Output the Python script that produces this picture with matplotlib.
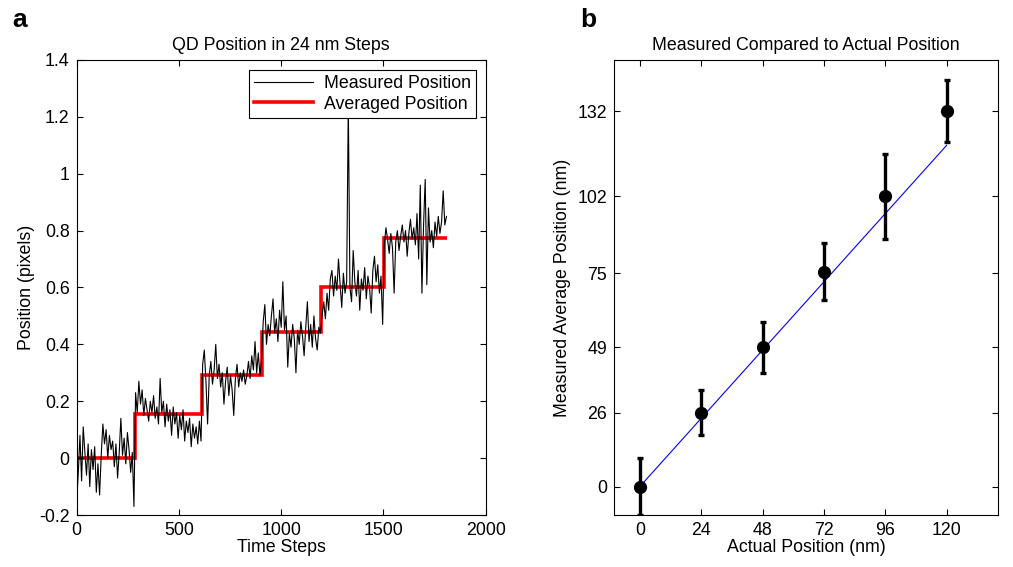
import numpy as np
import matplotlib
matplotlib.use("Agg")
import matplotlib.pyplot as plt

plt.rcParams['font.family'] = ['Liberation Sans', 'DejaVu Sans']

# ---- Panel a data ----
time_step = 8
measured = [
    # step 1 (0-280)
    -0.15, -0.05, 0.08, -0.08, 0.11, 0.02, -0.06, 0.05, -0.10, 0.03, -0.04, 0.04,
    -0.12, -0.02, -0.13, 0.01, 0.12, 0.05, 0.10, 0.00, 0.08, 0.03, 0.06, -0.03,
    0.05, -0.07, 0.02, 0.14, 0.01, 0.07, -0.02, 0.09, 0.03, -0.05, 0.02, -0.17,
    # step 2 (288-608)
    0.23, 0.16, 0.27, 0.19, 0.24, 0.15, 0.21, 0.17, 0.13, 0.20, 0.16, 0.22,
    0.14, 0.18, 0.12, 0.28, 0.16, 0.20, 0.11, 0.19, 0.13, 0.17, 0.08, 0.18,
    0.12, 0.16, 0.07, 0.15, 0.10, 0.17, 0.06, 0.13, 0.09, 0.14, 0.04, 0.12,
    0.07, 0.11, 0.05, 0.13, 0.06,
    # step 3 (616-904)
    0.33, 0.38, 0.27, 0.12, 0.29, 0.34, 0.26, 0.31, 0.40, 0.28, 0.33, 0.25,
    0.30, 0.19, 0.27, 0.32, 0.22, 0.29, 0.24, 0.15, 0.28, 0.33, 0.25, 0.30,
    0.27, 0.31, 0.26, 0.29, 0.34, 0.28, 0.36, 0.31, 0.41, 0.30, 0.37, 0.29,
    0.35,
    # step 4 (912-1192)
    0.48, 0.54, 0.40, 0.47, 0.43, 0.50, 0.56, 0.44, 0.49, 0.41, 0.52, 0.46,
    0.62, 0.45, 0.50, 0.32, 0.44, 0.39, 0.47, 0.42, 0.30, 0.45, 0.40, 0.48,
    0.43, 0.36, 0.46, 0.55, 0.41, 0.47, 0.39, 0.50, 0.42, 0.38, 0.46, 0.44,
    # step 5 (1200-1496)
    0.50, 0.55, 0.49, 0.58, 0.52, 0.63, 0.66, 0.57, 0.64, 0.59, 0.70, 0.61,
    0.53, 0.65, 0.58, 0.62, 1.25, 0.60, 0.55, 0.73, 0.62, 0.57, 0.66, 0.52,
    0.63, 0.59, 0.67, 0.56, 0.64, 0.60, 0.51, 0.66, 0.71, 0.62, 0.68, 0.58,
    0.64, 0.47,
    # step 6 (1504-1808)
    0.75, 0.81, 0.77, 0.72, 0.79, 0.74, 0.58, 0.76, 0.80, 0.73, 0.78, 0.82,
    0.76, 0.80, 0.71, 0.79, 0.84, 0.77, 0.81, 0.75, 0.86, 0.70, 0.96, 0.58,
    0.82, 0.98, 0.61, 0.88, 0.76, 0.80, 0.74, 0.83, 0.78, 0.85, 0.79, 0.83,
    0.94, 0.82, 0.85,
]
step_edges = [0, 285, 614, 905, 1195, 1502, 1810]
step_levels = [0.0, 0.154, 0.291, 0.444, 0.601, 0.775]
a_xticks = [0, 500, 1000, 1500, 2000]
a_yticks = [-0.2, 0, 0.2, 0.4, 0.6, 0.8, 1.0, 1.2, 1.4]
a_yticklabels = ['-0.2', '0', '0.2', '0.4', '0.6', '0.8', '1', '1.2', '1.4']

# ---- Panel b data ----
actual_nm = [0, 24, 48, 72, 96, 120]
measured_nm = [0, 26, 49, 75.5, 102, 132]
err_nm = [10, 8, 9, 10, 15, 11]
fit_x = [0, 120]
fit_y = [0, 120]
b_yticks = [0, 26, 49, 75, 102, 132]

fs = 12.8
fig = plt.figure(figsize=(10.13, 5.67), dpi=100)
axa = fig.add_axes([0.0757, 0.0917, 0.4038, 0.8025])
axb = fig.add_axes([0.6064, 0.0917, 0.3786, 0.8025])

t = np.arange(len(measured)) * time_step
axa.plot(t, measured, color='black', lw=0.8, label='Measured Position')
axa.stairs(step_levels, step_edges, baseline=None, color='red', lw=2.6,
           label='Averaged Position')
axa.set_xlim(0, 2000)
axa.set_ylim(-0.2, 1.4)
axa.set_xticks(a_xticks)
axa.set_yticks(a_yticks)
axa.set_yticklabels(a_yticklabels)
axa.set_title('QD Position in 24 nm Steps', fontsize=fs, pad=7)
axa.set_xlabel('Time Steps', fontsize=fs, labelpad=0)
axa.set_ylabel('Position (pixels)', fontsize=fs, labelpad=3)
leg = axa.legend(loc='upper right', fontsize=fs, frameon=True, fancybox=False,
                 edgecolor='black', framealpha=1, borderaxespad=0.55,
                 handlelength=3.3, handletextpad=0.6, borderpad=0.3,
                 labelspacing=0.2)
leg.get_frame().set_linewidth(0.8)
leg.set_zorder(5)

axb.plot(fit_x, fit_y, color='blue', lw=0.8, zorder=3)
axb.errorbar(actual_nm, measured_nm, yerr=err_nm, fmt='o', color='black',
             markersize=8.5, elinewidth=2.4, capsize=2.2, capthick=2.4, zorder=4)
axb.set_xlim(-10, 140)
axb.set_ylim(-10, 150)
axb.set_xticks(actual_nm)
axb.set_yticks(b_yticks)
axb.set_title('Measured Compared to Actual Position', fontsize=fs, pad=7)
axb.set_xlabel('Actual Position (nm)', fontsize=fs, labelpad=0)
axb.set_ylabel('Measured Average Position (nm)', fontsize=fs, labelpad=5)

for ax in (axa, axb):
    ax.tick_params(direction='in', top=True, right=True, labelsize=fs,
                   length=4, width=0.8, pad=5)
    for s in ax.spines.values():
        s.set_linewidth(0.8)

fig.text(0.012, 0.965, 'a', fontsize=19, fontweight='bold', va='center')
fig.text(0.573, 0.965, 'b', fontsize=19, fontweight='bold', va='center')

fig.savefig('out.png', dpi=100)
